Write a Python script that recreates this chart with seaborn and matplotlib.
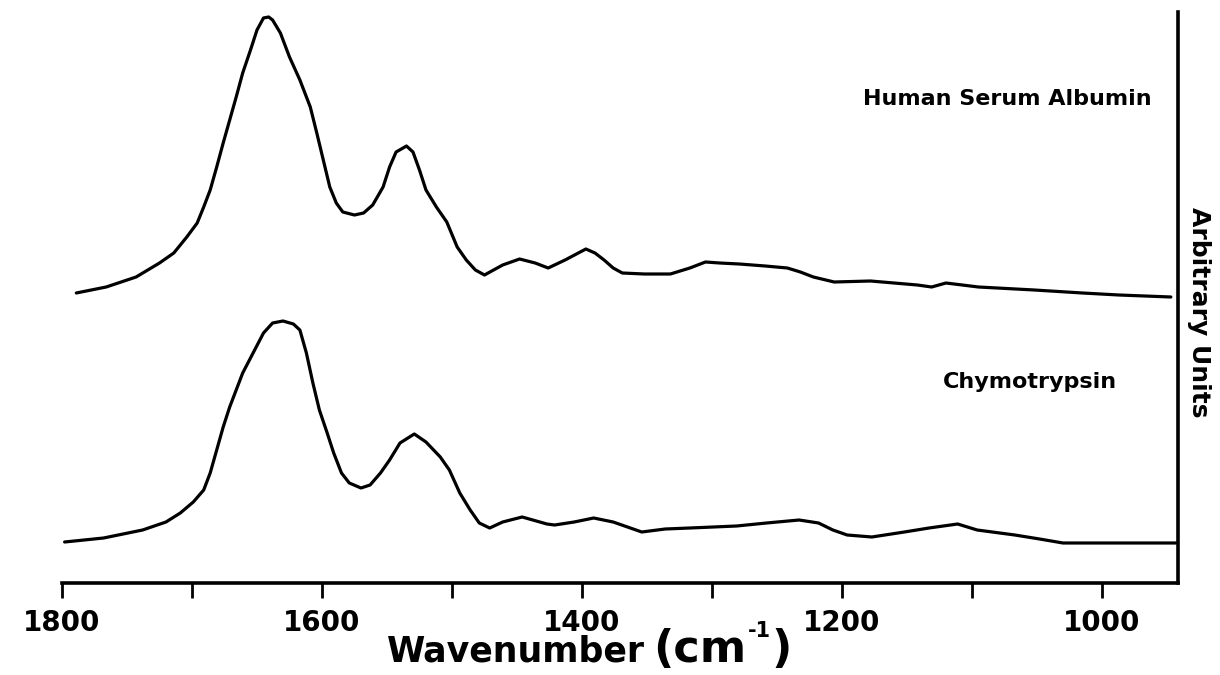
import matplotlib
matplotlib.use("Agg")
import matplotlib.pyplot as plt
from matplotlib.ticker import MultipleLocator
import pandas as pd
import seaborn as sns

# FTIR spectra (amide I / II / III region), arbitrary intensity units
wavenumber_hsa = [1789, 1766, 1743, 1725, 1714, 1704, 1696, 1691, 1686, 1681,
                  1676, 1671, 1666, 1661, 1655, 1650, 1645, 1641, 1638, 1632,
                  1625, 1617, 1609, 1604, 1599, 1594, 1589, 1584, 1575, 1568,
                  1561, 1553, 1548, 1543, 1535, 1530, 1525, 1520, 1512, 1504,
                  1496, 1489, 1482, 1475, 1461, 1448, 1436, 1426, 1413, 1397,
                  1390, 1383, 1376, 1369, 1352, 1332, 1317, 1305, 1294, 1279,
                  1259, 1242, 1232, 1222, 1206, 1178, 1142, 1131, 1120, 1095,
                  1052, 1015, 987, 947]
intensity_hsa = [290, 296, 306, 320, 330, 346, 360, 376, 393, 416,
                 440, 463, 486, 510, 533, 553, 565, 566, 563, 550,
                 526, 503, 476, 450, 423, 396, 380, 371, 368, 370,
                 378, 396, 416, 431, 437, 431, 413, 393, 376, 361,
                 336, 323, 313, 308, 318, 324, 320, 315, 323, 334,
                 330, 323, 315, 310, 309, 309, 315, 321, 320, 319,
                 317, 315, 311, 306, 301, 302, 298, 296, 300, 296,
                 293, 290, 288, 286]

wavenumber_chy = [1798, 1768, 1738, 1720, 1709, 1699, 1691, 1686, 1681, 1676,
                  1671, 1666, 1661, 1653, 1645, 1638, 1630, 1622, 1617, 1612,
                  1607, 1602, 1596, 1591, 1585, 1579, 1570, 1563, 1555, 1548,
                  1540, 1529, 1520, 1509, 1502, 1494, 1486, 1479, 1471, 1461,
                  1446, 1427, 1421, 1406, 1391, 1376, 1365, 1354, 1336, 1317,
                  1281, 1258, 1233, 1218, 1207, 1196, 1177, 1152, 1133, 1111,
                  1096, 1067, 1048, 1030, 1001, 943]
intensity_chy = [41, 45, 53, 61, 70, 81, 93, 110, 133, 156,
                 176, 193, 210, 230, 250, 260, 262, 259, 253, 230,
                 200, 173, 150, 130, 110, 100, 95, 98, 110, 123,
                 140, 149, 141, 126, 113, 90, 73, 60, 55, 61,
                 66, 59, 58, 61, 65, 61, 56, 51, 54, 55,
                 57, 60, 63, 60, 53, 48, 46, 51, 55, 59,
                 53, 48, 44, 40, 40, 40]

sample_names = ["Human Serum Albumin", "Chymotrypsin"]
major_ticks = [1800, 1600, 1400, 1200, 1000]

sns.set_style("white")
plt.rcParams["font.family"] = ["DejaVu Sans"]
plt.rcParams["text.color"] = "black"
plt.rcParams["axes.labelcolor"] = "black"
plt.rcParams["xtick.color"] = "black"

spectra = pd.concat([
    pd.DataFrame({"wavenumber": wavenumber_hsa, "intensity": intensity_hsa,
                  "sample": sample_names[0]}),
    pd.DataFrame({"wavenumber": wavenumber_chy, "intensity": intensity_chy,
                  "sample": sample_names[1]}),
], ignore_index=True)

W, H = 1220, 675
fig = plt.figure(figsize=(W / 100, H / 100), dpi=100)
ax = fig.add_axes([62 / W, 1 - 583 / H, (1178 - 62) / W, (583 - 12) / H])

sns.lineplot(data=spectra, x="wavenumber", y="intensity", hue="sample",
             palette=["black", "black"], estimator=None, sort=False,
             linewidth=2.3, legend=False, ax=ax)

ax.set_xlim(1800, 941.5)
ax.set_ylim(0, 571)

for side in ("left", "top"):
    ax.spines[side].set_visible(False)
for side in ("bottom", "right"):
    ax.spines[side].set_visible(True)
    ax.spines[side].set_color("black")
    ax.spines[side].set_linewidth(2.6)

ax.set_xticks(major_ticks)
ax.set_xticklabels([str(t) for t in major_ticks], fontsize=20,
                   fontweight="bold", color="black")
ax.xaxis.set_minor_locator(MultipleLocator(100))
ax.tick_params(axis="x", which="both", direction="out", length=10.5,
               width=2, color="black", bottom=True, pad=8)
ax.set_yticks([])
ax.set_ylabel("")
ax.set_xlabel("")

# axis title: "Wavenumber" followed by a larger "(cm" with a small "-1"
title_word = fig.text(387 / W, 13 / H, "Wavenumber", fontsize=25,
                      fontweight="bold", ha="left", va="baseline",
                      color="black")
unit_open = ax.annotate("(cm", xy=(1, 13),
                        xycoords=(title_word, "figure pixels"),
                        xytext=(6, 0), textcoords="offset points",
                        fontsize=32, fontweight="bold", ha="left",
                        va="baseline", color="black", annotation_clip=False)
unit_exp = ax.annotate("-1", xy=(1, 38),
                       xycoords=(unit_open, "figure pixels"),
                       xytext=(1, 0), textcoords="offset points",
                       fontsize=15, fontweight="bold", ha="left",
                       va="baseline", color="black", annotation_clip=False)
ax.annotate(")", xy=(1, 13), xycoords=(unit_exp, "figure pixels"),
            xytext=(0, 0), textcoords="offset points",
            fontsize=32, fontweight="bold", ha="left", va="baseline",
            color="black", annotation_clip=False)

ax.text(1199 / W, 1 - 312 / H, "Arbitrary Units", transform=fig.transFigure,
        rotation=270, fontsize=18, fontweight="bold",
        ha="center", va="center", color="black")

ax.text(1184, 478, sample_names[0], fontsize=16, fontweight="bold",
        ha="left", va="baseline", color="black")
ax.text(1122, 195, sample_names[1], fontsize=16, fontweight="bold",
        ha="left", va="baseline", color="black")

fig.savefig("out.png", dpi=100, facecolor="white")
